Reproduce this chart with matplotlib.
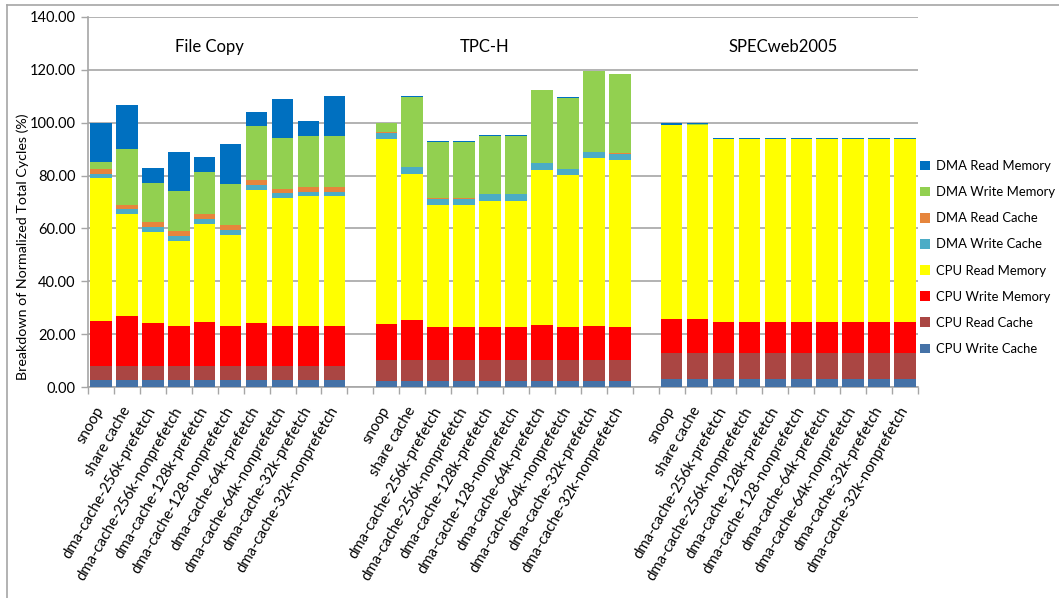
import numpy as np
import matplotlib.pyplot as plt
from matplotlib.lines import Line2D
from matplotlib.patches import Patch

plt.rcParams['font.family'] = ['Lato', 'DejaVu Sans']

workloads = ["File Copy", "TPC-H", "SPECweb2005"]
configs = ["snoop", "share cache", "dma-cache-256k-prefetch", "dma-cache-256k-nonprefetch",
           "dma-cache-128k-prefetch", "dma-cache-128-nonprefetch", "dma-cache-64k-prefetch",
           "dma-cache-64k-nonprefetch", "dma-cache-32k-prefetch", "dma-cache-32k-nonprefetch"]

# stack order, bottom to top
components = ["CPU Write Cache", "CPU Read Cache", "CPU Write Memory", "CPU Read Memory",
              "DMA Write Cache", "DMA Read Cache", "DMA Write Memory", "DMA Read Memory"]
colors = ["#4572A7", "#AA4643", "#FF0000", "#FFFF00",
          "#4BACC6", "#E6853C", "#92D050", "#0070C0"]

# File Copy
fc_cpu_write_cache = [2.8] * 10
fc_cpu_read_cache = [5.2] * 10
fc_cpu_write_mem = [16.8, 18.8, 16.4, 14.9, 16.6, 14.9, 16.2, 14.9, 14.9, 14.9]
fc_cpu_read_mem = [54.1, 38.5, 34.2, 32.4, 37.1, 34.6, 50.4, 48.5, 49.2, 49.2]
fc_dma_write_cache = [1.8, 1.9, 1.9, 1.9, 1.8, 1.9, 1.7, 1.9, 1.8, 1.8]
fc_dma_read_cache = [1.7, 1.8, 1.8, 1.8, 1.8, 1.9, 1.9, 1.6, 1.7, 1.7]
fc_dma_write_mem = [2.6, 20.9, 15.0, 15.2, 16.1, 15.5, 20.5, 19.3, 19.2, 19.2]
fc_dma_read_mem = [15.0, 16.9, 5.6, 14.9, 5.7, 15.1, 5.5, 14.8, 5.7, 15.2]

# TPC-H
tp_cpu_write_cache = [2.3] * 10
tp_cpu_read_cache = [7.8] * 10
tp_cpu_write_mem = [13.6, 15.1, 12.7, 12.7, 12.7, 12.7, 13.3, 12.7, 13.1, 12.7]
tp_cpu_read_mem = [70.2, 55.5, 46.1, 46.1, 47.7, 47.7, 58.8, 57.3, 63.4, 63.1]
tp_dma_write_cache = [2.3, 2.4, 2.4, 2.4, 2.4, 2.4, 2.4, 2.4, 2.4, 2.4]
tp_dma_read_cache = [0.1] * 10
tp_dma_write_mem = [3.5, 26.6, 21.3, 21.3, 22.0, 22.0, 27.5, 26.9, 30.3, 30.0]
tp_dma_read_mem = [0.2] * 10

# SPECweb2005
sw_cpu_write_cache = [2.9] * 10
sw_cpu_read_cache = [10.0] * 10
sw_cpu_write_mem = [13.0, 12.8, 11.8, 11.8, 11.8, 11.8, 11.8, 11.8, 11.8, 11.8]
sw_cpu_read_mem = [73.1, 73.5, 69.1, 69.1, 69.1, 69.1, 69.1, 69.1, 69.1, 69.1]
sw_dma_write_cache = [0.05] * 10
sw_dma_read_cache = [0.0] * 10
sw_dma_write_mem = [0.1] * 10
sw_dma_read_mem = [0.8, 0.5, 0.1, 0.1, 0.1, 0.1, 0.1, 0.1, 0.1, 0.1]

groups = [
    [fc_cpu_write_cache, fc_cpu_read_cache, fc_cpu_write_mem, fc_cpu_read_mem,
     fc_dma_write_cache, fc_dma_read_cache, fc_dma_write_mem, fc_dma_read_mem],
    [tp_cpu_write_cache, tp_cpu_read_cache, tp_cpu_write_mem, tp_cpu_read_mem,
     tp_dma_write_cache, tp_dma_read_cache, tp_dma_write_mem, tp_dma_read_mem],
    [sw_cpu_write_cache, sw_cpu_read_cache, sw_cpu_write_mem, sw_cpu_read_mem,
     sw_dma_write_cache, sw_dma_read_cache, sw_dma_write_mem, sw_dma_read_mem],
]

fig = plt.figure(figsize=(10.59, 5.98), dpi=100)
ax = fig.add_axes([0.0831, 0.3528, 0.7838, 0.6188])

grid_c = "#A6A6A6"
n = len(configs)
centers = []
labels = []
for g, comps in enumerate(groups):
    x = np.arange(n) + g * (n + 1)
    bottom = np.zeros(n)
    for vals, c in zip(comps, colors):
        ax.bar(x, vals, width=0.83, bottom=bottom, color=c, linewidth=0, zorder=3)
        bottom += np.array(vals)
    centers.extend(x)
    labels.extend(configs)

total_slots = len(groups) * (n + 1) - 1
ax.set_xlim(-0.5, total_slots - 0.5)
ax.set_ylim(0, 140)
ax.set_yticks(np.arange(0, 141, 20))
ax.set_yticklabels([f"{v:.2f}" for v in range(0, 141, 20)], fontsize=10.5)
ax.yaxis.grid(True, color=grid_c, linewidth=1.2, zorder=0)
ax.set_axisbelow(True)

ax.set_xticks(centers)
ax.set_xticklabels(labels, rotation=60, ha="right", va="center",
                   rotation_mode="anchor", fontsize=10.8)
ax.set_xticks(np.arange(-0.5, total_slots, 1.0), minor=True)
ax.tick_params(axis="x", which="major", length=0, pad=15)
ax.tick_params(axis="x", which="minor", length=5, color=grid_c, width=1)
ax.tick_params(axis="y", length=5, color=grid_c, width=1, pad=4)

for side in ["top", "right"]:
    ax.spines[side].set_visible(False)
for side in ["left", "bottom"]:
    ax.spines[side].set_color(grid_c)
    ax.spines[side].set_linewidth(1.2)

ax.set_ylabel("Breakdown of Normalized Total Cycles (%)", fontsize=10.3)
ax.yaxis.set_label_coords(-0.071, 0.378)

# workload names above each group
for name, xpos in zip(workloads, [4.19, 14.8, 26.3]):
    ax.text(xpos, 128.5, name, ha="center", va="center", fontsize=12)

handles = [Patch(facecolor=c, edgecolor="none") for c in colors][::-1]
fig.legend(handles, components[::-1], loc="center left",
           bbox_to_anchor=(0.869, 0.5694), frameon=False, fontsize=9.4,
           borderaxespad=0, borderpad=0, handlelength=0.75, handleheight=0.75,
           handletextpad=0.45, labelspacing=1.08)

# outer frame lines
fig.add_artist(Line2D([7 / 1059, 7 / 1059], [0, 1 - 5 / 598], color=grid_c, linewidth=1.2))
fig.add_artist(Line2D([7 / 1059, 1], [1 - 5 / 598, 1 - 5 / 598], color=grid_c, linewidth=1.2))

fig.savefig("out.png", dpi=100)
